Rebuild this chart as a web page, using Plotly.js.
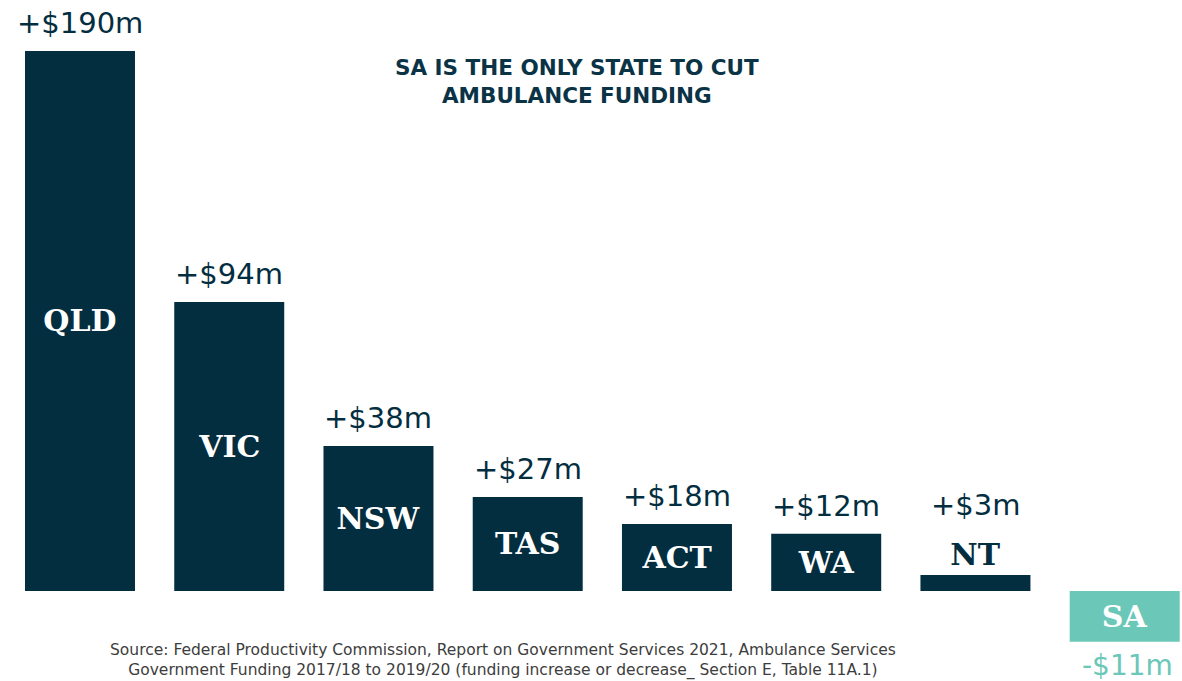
<!DOCTYPE html>
<html>
<head>
<meta charset="utf-8">
<script src="https://cdn.plot.ly/plotly-3.0.1.min.js"></script>
<style>
  html, body { margin: 0; padding: 0; background: #ffffff; }
  #chart { width: 1182px; height: 681px; }
</style>
</head>
<body>
<div id="chart"></div>
<script>
// States (categories)
var states = ["QLD", "VIC", "NSW", "TAS", "ACT", "WA", "NT", "SA"];
// Funding change 2017/18 to 2019/20, $m (as labelled)
var fundingChange = [190, 94, 38, 27, 18, 12, 3, -11];
// Bar lengths as drawn in the infographic (not to scale), in the same units as QLD = 190
var drawnHeight = [190, 101.7, 51.0, 33.1, 23.6, 20.1, 5.6, -17.9];
// Value labels
var valueLabels = ["+$190m", "+$94m", "+$38m", "+$27m", "+$18m", "+$12m", "+$3m", "-$11m"];

var NAVY = "#032e40";
var TEAL = "#6bc7b8";

var barColors = fundingChange.map(function (v) { return v < 0 ? TEAL : NAVY; });
var shortBar = drawnHeight.map(function (h) { return Math.abs(h) < 10; });
var textPos = shortBar.map(function (s) { return s ? "outside" : "inside"; });
var textCol = shortBar.map(function (s) { return s ? NAVY : "#ffffff"; });

var trace = {
  type: "bar",
  x: states,
  y: drawnHeight,
  marker: { color: barColors, line: { width: 0 } },
  text: states,
  textposition: textPos,
  insidetextanchor: "middle",
  textangle: 0,
  constraintext: "none",
  cliponaxis: false,
  textfont: { family: "DejaVu Serif", size: 30, color: textCol, weight: 700 },
  hoverinfo: "none"
};

var annotations = states.map(function (s, i) {
  var h = drawnHeight[i];
  var neg = h < 0;
  return {
    x: s,
    y: h,
    xref: "x",
    yref: "y",
    text: valueLabels[i],
    showarrow: false,
    xanchor: "center",
    yanchor: neg ? "top" : "bottom",
    yshift: neg ? -5 : (shortBar[i] ? 51 : 9),
    xshift: neg ? 3 : 0,
    font: { family: "DejaVu Sans", size: neg ? 28 : 29, color: neg ? TEAL : NAVY }
  };
});

annotations.push({
  xref: "paper", yref: "paper",
  x: 577 / 1182, y: 1 - 81 / 681,
  xanchor: "center", yanchor: "middle",
  text: "SA IS THE ONLY STATE TO CUT<br>AMBULANCE FUNDING",
  showarrow: false,
  align: "center",
  font: { family: "DejaVu Sans", size: 21.5, color: "#0a3346", weight: 700 }
});

annotations.push({
  xref: "paper", yref: "paper",
  x: 503 / 1182, y: 1 - 660 / 681,
  xanchor: "center", yanchor: "middle",
  text: "Source: Federal Productivity Commission, Report on Government Services 2021, Ambulance Services<br>Government Funding 2017/18 to 2019/20 (funding increase or decrease_ Section E, Table 11A.1)",
  showarrow: false,
  align: "center",
  font: { family: "DejaVu Sans", size: 15.5, color: "#3d3d3d" }
});

var layout = {
  width: 1182,
  height: 681,
  margin: { l: 0, r: 0, t: 0, b: 0, pad: 0 },
  paper_bgcolor: "#ffffff",
  plot_bgcolor: "#ffffff",
  showlegend: false,
  bargap: 0.263,
  xaxis: {
    type: "category",
    range: [-0.536, 7.384],
    visible: false,
    fixedrange: true
  },
  yaxis: {
    range: [-31.67, 207.94],
    visible: false,
    showgrid: false,
    zeroline: false,
    fixedrange: true
  },
  annotations: annotations
};

Plotly.newPlot("chart", [trace], layout, { displayModeBar: false, staticPlot: true });
</script>
</body>
</html>
